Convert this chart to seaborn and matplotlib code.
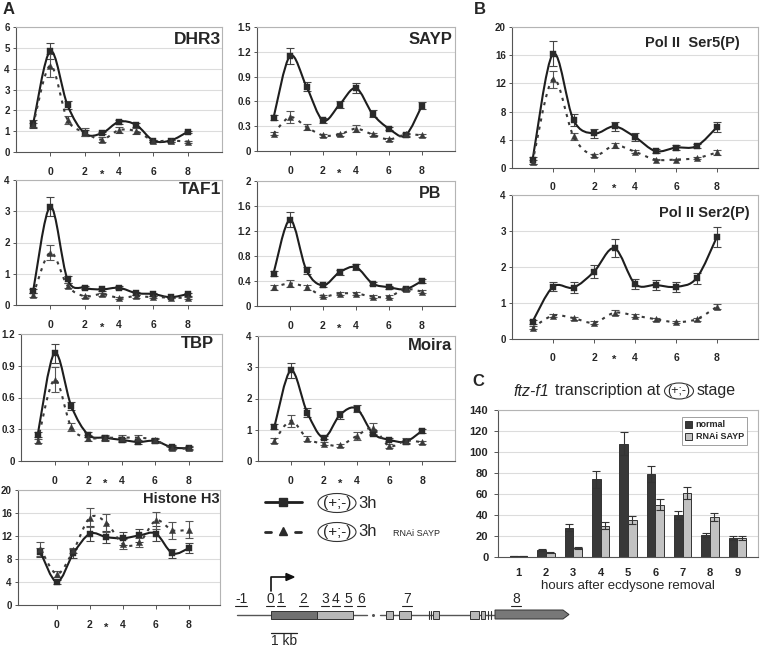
import numpy as np
import pandas as pd
import matplotlib
matplotlib.use("Agg")
import matplotlib.pyplot as plt
import seaborn as sns
from matplotlib.path import Path
from matplotlib.patches import PathPatch, Ellipse, Rectangle, Polygon
import matplotlib.transforms as mtransforms

# ---------------- data ----------------
hours = [-1, 0, 1, 2, 3, 4, 5, 6, 7, 8]

dhr3_ctrl = [1.35, 4.85, 2.25, 0.90, 0.90, 1.45, 1.30, 0.55, 0.55, 0.97]
dhr3_ctrl_err = [0.20, 0.40, 0.20, 0.15, 0.05, 0.10, 0.10, 0.05, 0.05, 0.05]
dhr3_rnai = [1.30, 4.15, 1.55, 0.95, 0.60, 1.05, 1.00, 0.55, 0.55, 0.50]
dhr3_rnai_err = [0.10, 0.55, 0.20, 0.20, 0.10, 0.15, 0.15, 0.05, 0.05, 0.05]

sayp_ctrl = [0.40, 1.15, 0.78, 0.37, 0.56, 0.76, 0.45, 0.27, 0.19, 0.55]
sayp_ctrl_err = [0.03, 0.10, 0.06, 0.03, 0.04, 0.06, 0.04, 0.02, 0.02, 0.04]
sayp_rnai = [0.21, 0.41, 0.29, 0.19, 0.20, 0.27, 0.20, 0.14, 0.20, 0.19]
sayp_rnai_err = [0.02, 0.07, 0.04, 0.02, 0.02, 0.04, 0.02, 0.02, 0.02, 0.02]

taf1_ctrl = [0.45, 3.15, 0.82, 0.55, 0.50, 0.55, 0.38, 0.35, 0.25, 0.35]
taf1_ctrl_err = [0.05, 0.30, 0.10, 0.05, 0.05, 0.05, 0.05, 0.05, 0.03, 0.05]
taf1_rnai = [0.32, 1.68, 0.62, 0.28, 0.35, 0.23, 0.28, 0.25, 0.24, 0.22]
taf1_rnai_err = [0.05, 0.25, 0.08, 0.05, 0.05, 0.03, 0.04, 0.03, 0.03, 0.03]

pb_ctrl = [0.52, 1.38, 0.57, 0.33, 0.54, 0.62, 0.36, 0.30, 0.27, 0.40]
pb_ctrl_err = [0.04, 0.12, 0.05, 0.02, 0.04, 0.05, 0.02, 0.02, 0.03, 0.03]
pb_rnai = [0.30, 0.36, 0.30, 0.16, 0.20, 0.20, 0.15, 0.15, 0.27, 0.23]
pb_rnai_err = [0.04, 0.05, 0.04, 0.02, 0.02, 0.02, 0.02, 0.02, 0.02, 0.02]

tbp_ctrl = [0.25, 1.02, 0.52, 0.25, 0.22, 0.20, 0.18, 0.19, 0.13, 0.12]
tbp_ctrl_err = [0.02, 0.09, 0.04, 0.02, 0.02, 0.02, 0.02, 0.02, 0.02, 0.01]
tbp_rnai = [0.19, 0.77, 0.32, 0.22, 0.22, 0.22, 0.22, 0.20, 0.12, 0.12]
tbp_rnai_err = [0.02, 0.12, 0.04, 0.03, 0.03, 0.03, 0.03, 0.02, 0.02, 0.02]

moira_ctrl = [1.10, 2.90, 1.55, 0.75, 1.48, 1.68, 0.88, 0.68, 0.62, 0.97]
moira_ctrl_err = [0.08, 0.25, 0.15, 0.06, 0.12, 0.12, 0.06, 0.05, 0.05, 0.06]
moira_rnai = [0.65, 1.28, 0.72, 0.55, 0.50, 0.80, 1.05, 0.48, 0.65, 0.60]
moira_rnai_err = [0.08, 0.20, 0.08, 0.05, 0.04, 0.12, 0.18, 0.05, 0.10, 0.05]

h3_ctrl = [9.2, 4.0, 9.0, 12.4, 11.8, 11.6, 12.1, 12.4, 9.0, 9.9]
h3_ctrl_err = [0.8, 0.3, 0.8, 1.3, 1.1, 1.1, 1.1, 1.3, 0.8, 0.9]
h3_rnai = [9.8, 5.4, 9.5, 15.2, 14.3, 10.6, 10.9, 14.7, 13.0, 13.1]
h3_rnai_err = [1.2, 0.6, 0.5, 1.6, 1.6, 0.8, 0.8, 1.5, 1.5, 1.5]

ser5_ctrl = [1.1, 16.2, 6.8, 4.9, 5.9, 4.4, 2.4, 2.9, 3.1, 5.8]
ser5_ctrl_err = [0.5, 1.8, 0.8, 0.6, 0.6, 0.5, 0.3, 0.3, 0.3, 0.7]
ser5_rnai = [0.8, 12.6, 4.5, 1.8, 3.2, 2.3, 1.2, 1.2, 1.4, 2.2]
ser5_rnai_err = [0.3, 1.2, 0.5, 0.2, 0.3, 0.2, 0.1, 0.1, 0.1, 0.3]

ser2_ctrl = [0.48, 1.45, 1.43, 1.87, 2.52, 1.53, 1.50, 1.45, 1.69, 2.84]
ser2_ctrl_err = [0.05, 0.13, 0.15, 0.18, 0.25, 0.15, 0.15, 0.14, 0.15, 0.28]
ser2_rnai = [0.31, 0.65, 0.58, 0.45, 0.73, 0.65, 0.55, 0.47, 0.55, 0.90]
ser2_rnai_err = [0.04, 0.05, 0.04, 0.04, 0.07, 0.05, 0.04, 0.03, 0.04, 0.07]

ftz_hours = ["1", "2", "3", "4", "5", "6", "7", "8", "9"]
ftz_normal = [1, 7, 28, 74, 108, 79, 40, 21, 18]
ftz_normal_err = [0, 1, 3, 8, 11, 8, 4, 2, 2]
ftz_rnai = [0.5, 4, 9, 30, 35, 50, 61, 38, 18]
ftz_rnai_err = [0, 0.5, 1, 3, 4, 5, 6, 4, 2]

xtick_pos = [0, 2, 4, 6, 8]
xtick_lab = ["0", "2", "4", "6", "8"]

# ---------------- style ----------------
sns.set_theme(style="white")
plt.rcParams["font.family"] = ["Liberation Sans", "DejaVu Sans"]

W, H = 763, 649
fig = plt.figure(figsize=(W / 100, H / 100), dpi=100)


def px_axes(l, t, r, b):
    return fig.add_axes([l / W, 1 - b / H, (r - l) / W, (b - t) / H])


def smooth_path(xs, ys):
    p = np.column_stack([np.asarray(xs, float), np.asarray(ys, float)])
    n = len(p)
    verts = [tuple(p[0])]
    codes = [Path.MOVETO]
    for i in range(n - 1):
        p0 = p[i - 1] if i > 0 else p[i]
        p1, p2 = p[i], p[i + 1]
        p3 = p[i + 2] if i + 2 < n else p[i + 1]
        c1 = p1 + (p2 - p0) / 6.0
        c2 = p2 - (p3 - p1) / 6.0
        verts += [tuple(c1), tuple(c2), tuple(p2)]
        codes += [Path.CURVE4] * 3
    return Path(verts, codes)


GRID = "#dcdcdc"
FRAME = "#b4b4b4"


def line_panel(box, ylim, yticks, xlim, ctrl, ctrl_err, rnai, rnai_err, pad=8):
    ax = px_axes(*box)
    ax.set_facecolor("white")
    ax.set_xlim(*xlim)
    ax.set_ylim(*ylim)
    ax.set_yticks(yticks)
    ax.set_yticklabels(["%g" % v for v in yticks])
    ax.set_xticks(xtick_pos)
    ax.set_xticklabels(xtick_lab)
    for yv in yticks[1:]:
        ax.axhline(yv, color=GRID, lw=0.8, zorder=0)
    for s in ["top", "right"]:
        ax.spines[s].set_color(FRAME)
        ax.spines[s].set_linewidth(0.8)
    for s in ["left", "bottom"]:
        ax.spines[s].set_color("#555555")
        ax.spines[s].set_linewidth(0.8)
    ax.tick_params(axis="y", length=2.5, width=0.7, color="#555555", pad=2,
                   labelsize=7, left=True)
    ax.tick_params(axis="x", length=3, width=0.7, color="#555555", pad=pad,
                   labelsize=7.5, bottom=True, direction="out")
    for lab in ax.get_xticklabels() + ax.get_yticklabels():
        lab.set_fontweight("bold")
    # star at x = 3
    tr = mtransforms.blended_transform_factory(ax.transData, ax.transAxes) + \
        mtransforms.ScaledTranslation(0, -(pad + 4.5) / 72, fig.dpi_scale_trans)
    ax.text(3, 0, "*", transform=tr, ha="center", va="top", fontsize=8,
            fontweight="bold")
    # error bars
    ax.errorbar(hours, ctrl, yerr=ctrl_err, fmt="none", ecolor="#444444",
                elinewidth=0.8, capsize=3, capthick=0.8, zorder=2)
    ax.errorbar(hours, rnai, yerr=rnai_err, fmt="none", ecolor="#555555",
                elinewidth=0.8, capsize=3, capthick=0.8, zorder=2)
    # smoothed lines
    ax.add_patch(PathPatch(smooth_path(hours, ctrl), fill=False, lw=1.5,
                           ec="#1e1e1e", zorder=3))
    ax.add_patch(PathPatch(smooth_path(hours, rnai), fill=False, lw=1.5,
                           ec="#3a3a3a", ls=(0, (1.5, 2.5)), zorder=3))
    sns.scatterplot(x=hours, y=ctrl, marker="s", s=20, color="#2a2a2a",
                    edgecolor="#2a2a2a", linewidth=0.3, ax=ax, zorder=4)
    sns.scatterplot(x=hours, y=rnai, marker="^", s=20, color="#3a3a3a",
                    edgecolor="#3a3a3a", linewidth=0.3, ax=ax, zorder=4)
    ax.set_xlabel("")
    ax.set_ylabel("")
    return ax


# Panel A
line_panel((16, 27, 222, 152), (0, 6), [0, 1, 2, 3, 4, 5, 6], (-2, 10),
           dhr3_ctrl, dhr3_ctrl_err, dhr3_rnai, dhr3_rnai_err)
line_panel((257, 27, 455, 151), (0, 1.5), [0, 0.3, 0.6, 0.9, 1.2, 1.5], (-2, 10),
           sayp_ctrl, sayp_ctrl_err, sayp_rnai, sayp_rnai_err)
line_panel((16, 180, 222, 305), (0, 4), [0, 1, 2, 3, 4], (-2, 10),
           taf1_ctrl, taf1_ctrl_err, taf1_rnai, taf1_rnai_err)
line_panel((257, 181, 455, 306), (0, 2), [0, 0.4, 0.8, 1.2, 1.6, 2], (-2, 10),
           pb_ctrl, pb_ctrl_err, pb_rnai, pb_rnai_err)
line_panel((21, 334, 222, 461), (0, 1.2), [0, 0.3, 0.6, 0.9, 1.2], (-2, 10),
           tbp_ctrl, tbp_ctrl_err, tbp_rnai, tbp_rnai_err)
line_panel((258, 336, 455, 461), (0, 4), [0, 1, 2, 3, 4], (-2, 10),
           moira_ctrl, moira_ctrl_err, moira_rnai, moira_rnai_err)
line_panel((18, 490, 220, 605), (0, 20), [0, 4, 8, 12, 16, 20], (-2.36, 9.88),
           h3_ctrl, h3_ctrl_err, h3_rnai, h3_rnai_err)

# Panel B
line_panel((512, 27, 758, 168), (0, 20), [0, 4, 8, 12, 16, 20], (-2, 10),
           ser5_ctrl, ser5_ctrl_err, ser5_rnai, ser5_rnai_err, pad=7)
line_panel((512, 195, 758, 339), (0, 4), [0, 1, 2, 3, 4], (-2, 10),
           ser2_ctrl, ser2_ctrl_err, ser2_rnai, ser2_rnai_err, pad=7)

# Panel C
axc = px_axes(498, 410, 758, 557)
dfc = pd.DataFrame({
    "hour": ftz_hours * 2,
    "value": ftz_normal + ftz_rnai,
    "cond": ["normal"] * len(ftz_hours) + ["RNAi SAYP"] * len(ftz_hours),
})
sns.barplot(data=dfc, x="hour", y="value", hue="cond", order=ftz_hours,
            hue_order=["normal", "RNAi SAYP"],
            palette={"normal": "#383838", "RNAi SAYP": "#c2c2c2"},
            edgecolor="#333333", linewidth=0.7, width=0.64, errorbar=None,
            saturation=1, ax=axc, zorder=2)
for cont, errs in zip(axc.containers, [ftz_normal_err, ftz_rnai_err]):
    xs = [p.get_x() + p.get_width() / 2 for p in cont]
    hs = [p.get_height() for p in cont]
    axc.errorbar(xs, hs, yerr=errs, fmt="none", ecolor="#333333",
                 elinewidth=0.8, capsize=3, capthick=0.8, zorder=3)
axc.set_ylim(0, 140)
axc.set_yticks(range(0, 141, 20))
for yv in range(20, 141, 20):
    axc.axhline(yv, color=GRID, lw=0.8, zorder=0)
for s in ["top", "right"]:
    axc.spines[s].set_color(FRAME)
    axc.spines[s].set_linewidth(0.8)
for s in ["left", "bottom"]:
    axc.spines[s].set_color("#555555")
    axc.spines[s].set_linewidth(0.8)
axc.tick_params(axis="y", length=3, width=0.7, color="#555555", pad=4,
                labelsize=8, left=True)
axc.tick_params(axis="x", length=0, pad=8, labelsize=8)
for lab in axc.get_xticklabels() + axc.get_yticklabels():
    lab.set_fontweight("bold")
axc.set_xlabel("hours after ecdysone removal", fontsize=9.5, labelpad=1)
axc.set_ylabel("")
leg = axc.legend(loc="upper right", bbox_to_anchor=(0.958, 0.952),
                 borderaxespad=0, frameon=True, fancybox=False,
                 prop={"weight": "bold", "size": 6.5}, handlelength=0.8,
                 handleheight=0.8, handletextpad=0.4, borderpad=0.35,
                 labelspacing=0.35)
leg.get_frame().set_edgecolor("#888888")
leg.get_frame().set_linewidth(0.7)

# ---------------- overlay (labels, legend, diagram) ----------------
ov = fig.add_axes([0, 0, 1, 1])
ov.set_xlim(0, W)
ov.set_ylim(H, 0)
ov.axis("off")

for txt, x, y in [("A", 3, 10), ("B", 474, 10), ("C", 472, 381)]:
    ov.text(x, y, txt, fontsize=12, fontweight="bold", ha="left", va="center")

titles = [("DHR3", 221, 40, 12.5, "bold"), ("SAYP", 452, 39, 12, "bold"),
          ("TAF1", 221, 190, 12.5, "bold"), ("PB", 441, 193, 11.5, "bold"),
          ("TBP", 214, 343, 12, "bold"), ("Moira", 452, 345, 12, "bold"),
          ("Histone H3", 220, 499, 10.5, "bold"),
          ("Pol II  Ser5(P)", 740, 43, 10.5, "bold"),
          ("Pol II Ser2(P)", 750, 213, 10.5, "bold")]
for txt, x, y, fs, fw in titles:
    ov.text(x, y, txt, fontsize=fs, fontweight=fw, ha="right", va="center")

# center legend
ov.plot([265, 302], [502, 502], color="#1e1e1e", lw=2)
ov.plot([283], [502], marker="s", ms=6, color="#2a2a2a")
ov.plot([265, 271], [532, 532], color="#2a2a2a", lw=2)
ov.plot([295, 301], [532, 532], color="#2a2a2a", lw=2)
ov.plot([283], [531], marker="^", ms=6, color="#2a2a2a")
for yc in [503, 532]:
    ov.add_patch(Ellipse((337, yc), 38, 19, fill=False, ec="#333333", lw=0.8))
    ov.text(337, yc, "(+;-)", fontsize=11, ha="center", va="center")
    ov.text(358, yc, "3h", fontsize=12, ha="left", va="center")
ov.text(393, 533, "RNAi SAYP", fontsize=6.5, ha="left", va="center")

# panel C title
ov.text(513, 391, "ftz-f1", fontsize=11.5, style="italic", ha="left", va="center")
ov.text(555, 391, "transcription at", fontsize=11.5, ha="left", va="center")
ov.add_patch(Ellipse((679, 391), 29, 16, fill=False, ec="#333333", lw=0.8))
ov.text(679, 391, "(+;-)", fontsize=9, ha="center", va="center")
ov.text(697, 391, "stage", fontsize=11.5, ha="left", va="center")

# gene diagram
gy = 614.5
ov.plot([237, 367], [gy, gy], color="#555555", lw=1)
ov.plot([373], [gy], marker="o", ms=1.2, color="#555555")
ov.plot([380, 495], [gy, gy], color="#555555", lw=1)
ov.add_patch(Rectangle((271, gy - 4), 46, 8, fc="#707070", ec="#333333", lw=0.7, zorder=3))
ov.add_patch(Rectangle((317, gy - 4), 36, 8, fc="#b8b8b8", ec="#333333", lw=0.7, zorder=3))
for x0, x1 in [(386, 393), (399, 411), (433, 439), (470, 479), (481, 485)]:
    ov.add_patch(Rectangle((x0, gy - 4), x1 - x0, 8, fc="#b8b8b8", ec="#333333",
                           lw=0.7, zorder=3))
for xt in [429, 431, 488, 491]:
    ov.plot([xt, xt], [gy - 4, gy + 4], color="#333333", lw=0.8)
ov.add_patch(Polygon([(495, gy - 4.5), (563, gy - 4.5), (569, gy), (563, gy + 4.5),
                      (495, gy + 4.5)], closed=True, fc="#787878", ec="#333333",
                     lw=0.7, zorder=3))
frag_labels = [("-1", 241, 235, 247), ("0", 270, 266, 274), ("1", 281, 277, 285),
               ("2", 303.5, 299, 308), ("3", 325, 321, 329), ("4", 336, 332, 340),
               ("5", 348, 344, 352), ("6", 361, 357, 365), ("7", 407, 402, 412),
               ("8", 516, 511, 521)]
for txt, xc, u0, u1 in frag_labels:
    ov.text(xc, 599, txt, fontsize=10, ha="center", va="center")
    ov.plot([u0, u1], [605.5, 605.5], color="#222222", lw=0.8)
# transcription start arrow
ov.plot([271, 271, 288], [591, 577, 577], color="#111111", lw=1.2)
ov.add_patch(Polygon([(286, 573.5), (294, 577), (286, 580.5)], closed=True,
                     fc="#111111", ec="#111111"))
# scale bar
ov.plot([271, 297], [633, 633], color="#222222", lw=0.9)
ov.text(284, 641, "1 kb", fontsize=10, ha="center", va="center")

fig.savefig("out.png", dpi=100)
